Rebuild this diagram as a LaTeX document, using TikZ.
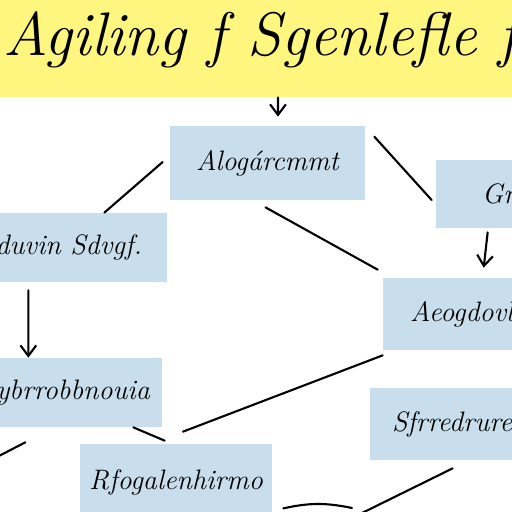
\documentclass[tikz,border=0pt]{standalone}
\usetikzlibrary{arrows.meta,calc}
\definecolor{jaunebandeau}{RGB}{255,246,128}
\definecolor{bleuboite}{RGB}{201,222,236}
\begin{document}
\begin{tikzpicture}[x=0.02cm,y=-0.02cm]
		% définition des styles
		\tikzstyle{bandeau}=[rectangle,fill=jaunebandeau,inner sep=0pt,text=black,font=\fontsize{35}{36}\selectfont\itshape]
		\tikzstyle{boite}=[rectangle,fill=bleuboite,inner sep=0pt,text=black,font=\fontsize{16}{18}\selectfont\itshape]
		\tikzstyle{lien}=[line width=1.2pt,line cap=round]
		\tikzstyle{fleche}=[lien,-{Straight Barb[length=6pt,width=9pt]}]
		% le cadre
		\useasboundingbox (0,0) rectangle (512,512);
		\fill[white] (0,0) rectangle (512,512);
		\clip (0,0) rectangle (512,512);
		% les nœuds
		\node[bandeau,minimum width=11.4cm,minimum height=1.94cm] (titre) at (260,48.5) {\raisebox{0.6cm}{Agiling f Sgenlefle f}};
		\node[boite,minimum width=3.9cm,minimum height=1.48cm] (a) at (267.5,163) {Alogárcmmt};
		\node[boite,minimum height=1.36cm,text width=2.36cm,inner xsep=0.92cm,align=left] (g) at (541,194) {Grnedl};
		\node[boite,minimum height=1.38cm,text width=5.34cm,inner xsep=0.5cm,align=right] (s) at (8.5,247.5) {Aeceiregduvin Sdvgf.};
		\node[boite,minimum height=1.44cm,text width=4.26cm,inner xsep=0.54cm,align=left] (m) at (516.5,314) {Aeogdovlnet};
		\node[boite,minimum height=1.38cm,text width=5.76cm,inner xsep=0.24cm,align=right] (l) at (6,392.5) {Saeoyol ybrrobbnouia};
		\node[boite,minimum height=1.44cm,text width=4.72cm,inner xsep=0.44cm,align=left] (r) at (510,424) {Sfrredrurems};
		\node[boite,minimum width=3.84cm,minimum height=1.52cm] (b) at (176,482) {Rfogalenhirmo};
		\coordinate (finr) at (360,514);
		\coordinate (finb) at (352,508);
		\coordinate (fing) at (-5,458);
		% les flèches
		\draw[fleche] ($(titre.south)+(18,0)$) -- ($(a.north)+(10.5,-9)$);
		\draw[lien] ($(a.west)+(-7,-1)$) -- ($(s.north east)+(-63,0)$);
		\draw[lien] ($(a.north east)+(9,11)$) -- ($(g.west)+(-4,6)$);
		\draw[lien] ($(a.south)+(-2,7)$) -- ($(m.north west)+(-5,-8)$);
		\draw[fleche] ($(g.south west)+(52,4)$) -- ($(m.north west)+(101,-10)$);
		\draw[fleche] ($(s.south east)+(-139,8)$) -- ($(l.north east)+(-134,0)$);
		\draw[lien] ($(m.south west)+(0,5)$) -- ($(b.north)+(7,-12)$);
		\draw[lien] ($(l.south east)+(-29,0)$) -- ($(b.north west)+(85,-3)$);
		\draw[lien] ($(r.south west)+(83,8)$) -- (finr);
		\draw[lien] ($(b.south east)+(11,-12)$) to[bend left=12] (finb);
		\draw[lien] (fing) -- ($(l.south east)+(-137,15)$);
	\end{tikzpicture}
\end{document}
